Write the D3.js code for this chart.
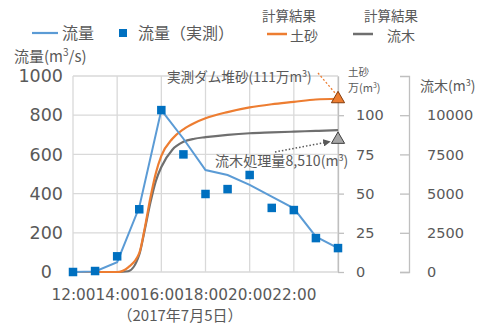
<!DOCTYPE html>
<html lang="ja">
<head>
<meta charset="utf-8">
<script src="https://cdn.jsdelivr.net/npm/d3@7"></script>
<style>
  html, body { margin: 0; padding: 0; background: #fff; }
  svg { display: block; font-family: "Noto Sans CJK JP", "Noto Sans", sans-serif; }
  .grid line { stroke: #d9d9d9; stroke-width: 1.3; }
  .num text, text.num { font-family: "DejaVu Sans", sans-serif; }
  text { fill: #595959; }
</style>
</head>
<body>
<svg id="chart" width="479" height="325"></svg>
<script>
// Hourly flow, 12:00–24:00 on 5 July 2017
const flowHours = [12, 13, 14, 15, 16, 17, 18, 19, 20, 21, 22, 23, 24];
const flowCalc = [0, 3, 50, 330, 826, 680, 520, 495, 445, 385, 325, 180, 122];       // 流量 (m3/s)
const flowObserved = [0, 5, 80, 320, 826, 600, 398, 423, 495, 327, 316, 173, 122];  // 流量（実測）

// Calculated cumulative sediment (万m3) and driftwood (m3)
const calcHours = [12, 13, 14, 14.5, 15, 15.25, 15.5, 15.75, 16, 16.5, 17, 17.5, 18, 19, 20, 21, 22, 23, 24];
const sediment = [0, 0, 0, 3, 12, 28, 47, 63, 74, 85, 91, 95, 98, 102, 105, 107, 108.5, 110, 110.5];
const driftwood = [0, 0, 0, 50, 1100, 2700, 4400, 5800, 6700, 7800, 8300, 8500, 8600, 8750, 8850, 8900, 8950, 9000, 9050];

// Observed totals
const observedSediment = 111;   // 万m3
const observedDriftwood = 8510; // m3

const xTicks = [12, 14, 16, 18, 20, 22];
const xTickLabels = ["12:00", "14:00", "16:00", "18:00", "20:00", "22:00"];
const flowTicks = [0, 200, 400, 600, 800, 1000];
const sedimentTicks = [0, 25, 50, 75, 100];
const woodTicks = [0, 2500, 5000, 7500, 10000];

const svg = d3.select("#chart");
const plotLeft = 73, plotRight = 338, plotTop = 76, plotBottom = 272;

const x = d3.scaleLinear().domain([12, 24]).range([plotLeft, plotRight]);
const yFlow = d3.scaleLinear().domain([0, 1000]).range([plotBottom, plotTop]);
const ySed = d3.scaleLinear().domain([0, 125]).range([plotBottom, plotTop]);
const yWood = d3.scaleLinear().domain([0, 12500]).range([plotBottom, plotTop]);

// Gridlines
const grid = svg.append("g").attr("class", "grid");
grid.selectAll("line.h").data(flowTicks).join("line")
  .attr("x1", plotLeft).attr("x2", plotRight)
  .attr("y1", d => yFlow(d)).attr("y2", d => yFlow(d));
grid.selectAll("line.v").data([12, 14, 16, 18, 20, 22, 24]).join("line")
  .attr("x1", d => x(d)).attr("x2", d => x(d))
  .attr("y1", plotTop).attr("y2", plotBottom);

// Left axis (flow)
const leftAxis = svg.append("g").attr("class", "num").attr("transform", `translate(${plotLeft},0)`)
  .call(d3.axisLeft(yFlow).tickValues(flowTicks).tickSize(0).tickPadding(10)
    .tickFormat(d => d === 0 ? "0\u2007" : String(d)));
leftAxis.select(".domain").remove();
leftAxis.selectAll("text").attr("font-size", 17.5).style("fill", "#595959");

// Bottom axis (time)
const bottomAxis = svg.append("g").attr("class", "num").attr("transform", `translate(0,${plotBottom})`)
  .call(d3.axisBottom(x).tickValues(xTicks).tickSize(0).tickPadding(17)
    .tickFormat((d, i) => xTickLabels[i]));
bottomAxis.select(".domain").remove();
bottomAxis.selectAll("text").attr("font-size", 15.3).style("fill", "#595959");

svg.append("text").attr("x", 180).attr("y", 321).attr("text-anchor", "middle")
  .attr("font-size", 15).text("（2017年7月5日）");

// Right axis 1 (sediment)
const sedAxis = svg.append("g").attr("class", "num").attr("transform", `translate(${plotRight},0)`)
  .call(d3.axisRight(ySed).tickValues(sedimentTicks).tickSize(6).tickPadding(12).tickSizeOuter(0));
sedAxis.select(".domain").attr("stroke", "#bfbfbf").attr("stroke-width", 1.3);
sedAxis.selectAll(".tick line").attr("stroke", "#bfbfbf").attr("stroke-width", 1.3);
sedAxis.selectAll("text").attr("font-size", 14.5).style("fill", "#595959");

// Right axis 2 (driftwood)
const woodX = 409;
const woodAxis = svg.append("g").attr("class", "num").attr("transform", `translate(${woodX},0)`)
  .call(d3.axisLeft(yWood).tickValues(woodTicks).tickSize(9).tickSizeOuter(9).tickFormat(d3.format("d")));
woodAxis.select(".domain").attr("stroke", "#bfbfbf").attr("stroke-width", 1.3);
woodAxis.selectAll(".tick line").attr("stroke", "#bfbfbf").attr("stroke-width", 1.3);
woodAxis.selectAll("text").attr("font-size", 14.5).attr("text-anchor", "start")
  .attr("x", 18).style("fill", "#595959");

// Axis titles
const flowTitle = svg.append("text").attr("x", 14).attr("y", 62).attr("font-size", 15);
flowTitle.append("tspan").text("流量(m");
flowTitle.append("tspan").attr("font-size", 10).attr("dy", -6).text("3");
flowTitle.append("tspan").attr("dy", 6).text("/s)");

svg.append("text").attr("x", 348).attr("y", 75.5).attr("font-size", 10.5).text("土砂");
const sedTitle = svg.append("text").attr("x", 348).attr("y", 92).attr("font-size", 11);
sedTitle.append("tspan").text("万(m");
sedTitle.append("tspan").attr("font-size", 7).attr("dy", -4).text("3");
sedTitle.append("tspan").attr("dy", 4).text(")");

const woodTitle = svg.append("text").attr("x", 420).attr("y", 91).attr("font-size", 14);
woodTitle.append("tspan").text("流木(m");
woodTitle.append("tspan").attr("font-size", 9).attr("dy", -5).text("3");
woodTitle.append("tspan").attr("dy", 5).text(")");

// Calculated sediment and driftwood curves
const sedLine = d3.line().x((d, i) => x(calcHours[i])).y(d => ySed(d)).curve(d3.curveMonotoneX);
const woodLine = d3.line().x((d, i) => x(calcHours[i])).y(d => yWood(d)).curve(d3.curveMonotoneX);
svg.append("path").attr("d", woodLine(driftwood)).attr("fill", "none")
  .attr("stroke", "#6f6f6f").attr("stroke-width", 2.2);
svg.append("path").attr("d", sedLine(sediment)).attr("fill", "none")
  .attr("stroke", "#ed7d31").attr("stroke-width", 2.2);

// Flow line and observed flow markers
const flowLine = d3.line().x((d, i) => x(flowHours[i])).y(d => yFlow(d));
svg.append("path").attr("d", flowLine(flowCalc)).attr("fill", "none")
  .attr("stroke", "#5b9bd5").attr("stroke-width", 2);
const sq = 8.5;
svg.selectAll("rect.obs").data(flowObserved).join("rect")
  .attr("x", (d, i) => x(flowHours[i]) - sq / 2).attr("y", d => yFlow(d) - sq / 2)
  .attr("width", sq).attr("height", sq).attr("fill", "#0070c0");

// Observed totals (triangles) with annotations
const tri = d3.symbol().type(d3.symbolTriangle).size(75);
const sedPt = [x(24), ySed(observedSediment)];
const woodPt = [x(24), yWood(observedDriftwood)];

svg.append("line").attr("x1", 318).attr("y1", 73).attr("x2", sedPt[0] - 3).attr("y2", sedPt[1] - 5)
  .attr("stroke", "#ed7d31").attr("stroke-width", 1.3).attr("stroke-dasharray", "2,2");
svg.append("path").attr("d", tri).attr("transform", `translate(${sedPt[0]},${sedPt[1] + 1})`)
  .attr("fill", "#ed7d31").attr("stroke", "#843c0c").attr("stroke-width", 1);

svg.append("defs").append("marker").attr("id", "arrow")
  .attr("viewBox", "0 0 10 10").attr("refX", 9).attr("refY", 5)
  .attr("markerWidth", 5).attr("markerHeight", 5).attr("orient", "auto")
  .append("path").attr("d", "M0,0L10,5L0,10z").attr("fill", "#595959");
svg.append("line").attr("x1", 275).attr("y1", 152).attr("x2", woodPt[0] - 8).attr("y2", woodPt[1] + 3)
  .attr("stroke", "#595959").attr("stroke-width", 1.5).attr("stroke-dasharray", "1.5,2")
  .attr("marker-end", "url(#arrow)");
svg.append("path").attr("d", tri).attr("transform", `translate(${woodPt[0]},${woodPt[1] + 1})`)
  .attr("fill", "#a6a6a6").attr("stroke", "#404040").attr("stroke-width", 1);

const sedNote = svg.append("text").attr("x", 167).attr("y", 82).attr("font-size", 13.6);
sedNote.append("tspan").text("実測ダム堆砂(111万m");
sedNote.append("tspan").attr("font-size", 9).attr("dy", -5).text("3");
sedNote.append("tspan").attr("dy", 5).text(")");

const woodNote = svg.append("text").attr("x", 215).attr("y", 166).attr("font-size", 14.1);
woodNote.append("tspan").text("流木処理量8,510(m");
woodNote.append("tspan").attr("font-size", 9).attr("dy", -5).text("3");
woodNote.append("tspan").attr("dy", 5).text(")");

// Legend
svg.append("line").attr("x1", 32).attr("x2", 58).attr("y1", 33).attr("y2", 33)
  .attr("stroke", "#5b9bd5").attr("stroke-width", 2.2);
svg.append("text").attr("x", 62).attr("y", 39).attr("font-size", 16).text("流量");
svg.append("rect").attr("x", 119).attr("y", 29).attr("width", 8).attr("height", 8).attr("fill", "#0070c0");
svg.append("text").attr("x", 138).attr("y", 39).attr("font-size", 16).text("流量（実測）");

svg.append("text").attr("x", 289).attr("y", 21).attr("text-anchor", "middle").attr("font-size", 13.5).text("計算結果");
svg.append("line").attr("x1", 267).attr("x2", 287).attr("y1", 34).attr("y2", 34)
  .attr("stroke", "#ed7d31").attr("stroke-width", 2.5);
svg.append("text").attr("x", 290).attr("y", 41).attr("font-size", 14).text("土砂");

svg.append("text").attr("x", 391).attr("y", 21).attr("text-anchor", "middle").attr("font-size", 13.5).text("計算結果");
svg.append("line").attr("x1", 353).attr("x2", 373).attr("y1", 34).attr("y2", 34)
  .attr("stroke", "#6f6f6f").attr("stroke-width", 2.5);
svg.append("text").attr("x", 387).attr("y", 41).attr("font-size", 14).text("流木");
</script>
</body>
</html>
